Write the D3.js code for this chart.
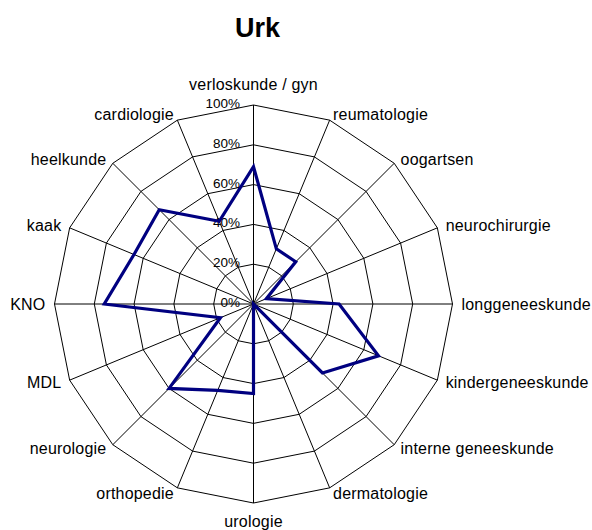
<!DOCTYPE html>
<html>
<head>
<meta charset="utf-8">
<script src="https://cdn.jsdelivr.net/npm/d3@7"></script>
<style>
  body { margin: 0; background: #fff; }
  text { font-family: "Liberation Sans", Arial, sans-serif; fill: #000; }
</style>
</head>
<body>
<script>
// data
var categories = ["verloskunde / gyn", "reumatologie", "oogartsen", "neurochirurgie",
  "longgeneeskunde", "kindergeneeskunde", "interne geneeskunde", "dermatologie",
  "urologie", "orthopedie", "neurologie", "MDL", "KNO", "kaak", "heelkunde", "cardiologie"];
var values = [0.69, 0.30, 0.30, 0.07, 0.43, 0.68, 0.49, 0.0,
  0.45, 0.47, 0.60, 0.18, 0.75, 0.65, 0.67, 0.45];
var ticks = [0, 0.2, 0.4, 0.6, 0.8, 1.0];
var tickLabels = ["0%", "20%", "40%", "60%", "80%", "100%"];

var width = 592, height = 530,
    cx = 253.5, cy = 304,
    radius = 199;

var svg = d3.select("body").append("svg")
    .attr("width", width)
    .attr("height", height);

var r = d3.scaleLinear().domain([0, 1]).range([0, radius]);
var angle = d3.scaleLinear().domain([0, categories.length]).range([0, 2 * Math.PI]);

var g = svg.append("g").attr("transform", "translate(" + cx + "," + cy + ")");

function pt(i, v) {
  var a = angle(i);
  return [r(v) * Math.sin(a), -r(v) * Math.cos(a)];
}

// title
svg.append("text")
    .attr("x", 257.5)
    .attr("y", 37)
    .attr("text-anchor", "middle")
    .style("font-size", "27px")
    .style("font-weight", "bold")
    .text("Urk");

// grid rings
var ring = d3.line();
g.selectAll(".ring")
  .data(ticks.slice(1))
  .enter().append("path")
    .attr("class", "ring")
    .attr("d", function(t) {
      return ring(categories.map(function(c, i) { return pt(i, t); })) + "Z";
    })
    .attr("fill", "none")
    .attr("stroke", "#000")
    .attr("stroke-width", 1);

// spokes
g.selectAll(".spoke")
  .data(categories)
  .enter().append("line")
    .attr("class", "spoke")
    .attr("x1", 0).attr("y1", 0)
    .attr("x2", function(d, i) { return pt(i, 1)[0]; })
    .attr("y2", function(d, i) { return pt(i, 1)[1]; })
    .attr("stroke", "#000")
    .attr("stroke-width", 1);

// tick labels
g.selectAll(".tick")
  .data(ticks)
  .enter().append("text")
    .attr("class", "tick")
    .attr("x", -13.5)
    .attr("y", function(t) { return -r(t) - 1.5; })
    .attr("text-anchor", "end")
    .attr("dominant-baseline", "central")
    .style("font-size", "13.5px")
    .text(function(t, i) { return tickLabels[i]; });

// data line
g.append("path")
    .attr("d", ring(values.map(function(v, i) { return pt(i, v); })) + "Z")
    .attr("fill", "none")
    .attr("stroke", "#000080")
    .attr("stroke-width", 3.2)
    .attr("stroke-linejoin", "miter");

// category labels
g.selectAll(".cat")
  .data(categories)
  .enter().append("text")
    .attr("class", "cat")
    .attr("x", function(d, i) { return pt(i, 1)[0] + 9 * Math.sin(angle(i)); })
    .attr("y", function(d, i) {
      var a = angle(i), e = pt(i, 1)[1];
      if (Math.abs(Math.sin(a)) < 0.01) return e + (Math.cos(a) > 0 ? -20.5 : 18);
      return e - 6 * Math.cos(a);
    })
    .attr("text-anchor", function(d, i) {
      var s = Math.sin(angle(i));
      return Math.abs(s) < 0.01 ? "middle" : (s > 0 ? "start" : "end");
    })
    .attr("dominant-baseline", "central")
    .style("font-size", "16px")
    .style("letter-spacing", "0.2px")
    .text(function(d) { return d; });
</script>
</body>
</html>
